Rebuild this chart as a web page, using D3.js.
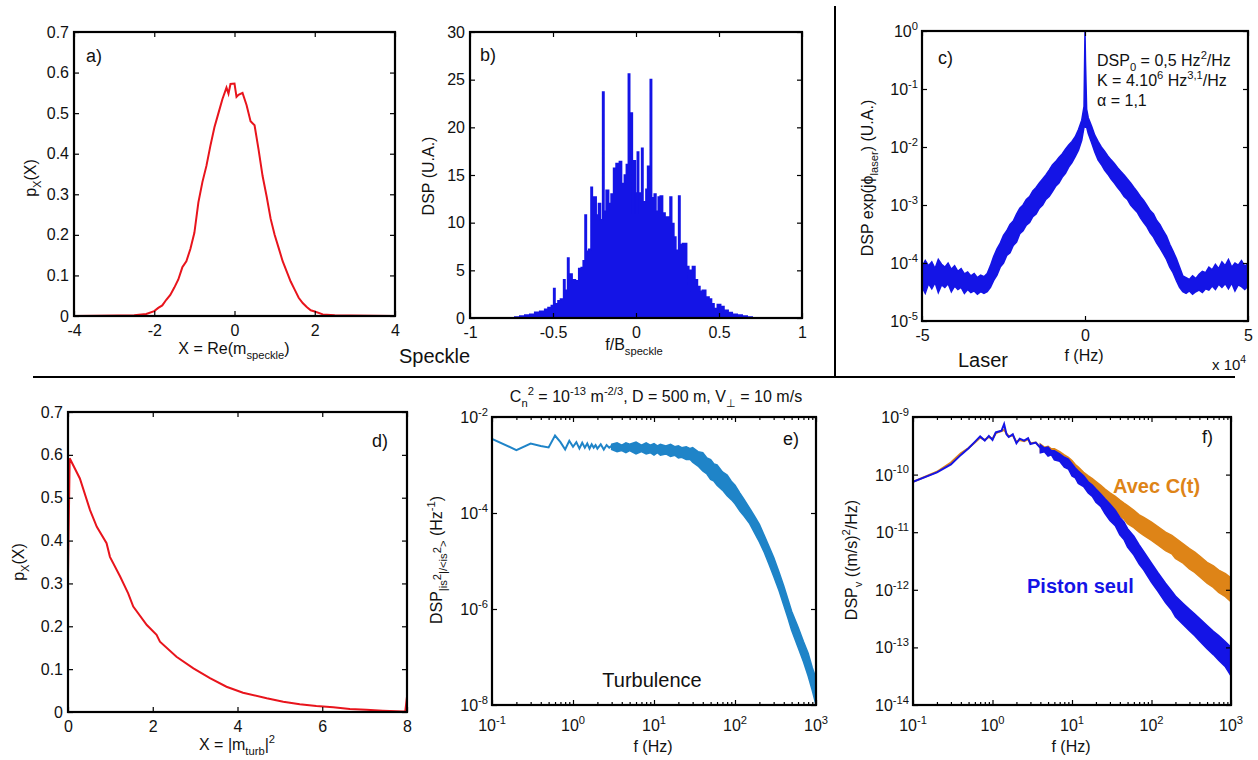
<!DOCTYPE html>
<html><head><meta charset="utf-8">
<script src="https://cdn.jsdelivr.net/npm/d3@7"></script>
<style>
body{margin:0;background:#fff}
svg{display:block}
text{font-family:"Liberation Sans",Arial,Helvetica,sans-serif;fill:#111}
</style></head>
<body><svg id="chart" width="1258" height="760"></svg>
<script>
// ---------- DATA ----------
// a) Gaussian-like pdf of Re(m_speckle)
const aX = [-4,-2.9,-2.5,-2.2,-2.0,-1.9,-1.8,-1.7,-1.6,-1.5,-1.4,-1.3,-1.2,-1.1,-1.0,-0.9,-0.8,-0.7,-0.6,-0.5,-0.4,-0.3,-0.2,-0.15,-0.1,0,0.05,0.1,0.2,0.3,0.4,0.5,0.6,0.7,0.8,0.9,1.0,1.1,1.2,1.3,1.4,1.5,1.6,1.7,1.8,1.9,2.0,2.2,2.5,2.9,4];
const aY = [0,0.001,0.002,0.005,0.012,0.02,0.026,0.04,0.052,0.07,0.09,0.12,0.135,0.165,0.205,0.28,0.33,0.37,0.42,0.465,0.5,0.535,0.563,0.548,0.572,0.573,0.54,0.545,0.55,0.52,0.48,0.47,0.41,0.345,0.295,0.24,0.2,0.168,0.135,0.11,0.085,0.065,0.045,0.032,0.022,0.014,0.011,0.004,0.002,0.001,0];
const aXTicks = [-4,-2,0,2,4];
const aYTicks = [0,0.1,0.2,0.3,0.4,0.5,0.6,0.7];

// b) speckle spectrum (step plot)
const bF = [-1,-0.73,-0.70,-0.67,-0.64,-0.61,-0.58,-0.55,-0.53,-0.51,-0.496,-0.488,-0.47,-0.455,-0.436,-0.428,-0.412,-0.404,-0.385,-0.365,-0.345,-0.33,-0.318,-0.307,-0.299,-0.285,-0.271,-0.263,-0.248,-0.24,-0.226,-0.214,-0.201,-0.193,-0.18,-0.165,-0.15,-0.135,-0.12,-0.10,-0.087,-0.07,-0.058,-0.046,-0.038,-0.03,-0.022,-0.014,-0.004,0.004,0.008,0.016,0.034,0.042,0.06,0.07,0.086,0.094,0.11,0.12,0.134,0.146,0.16,0.175,0.19,0.205,0.215,0.228,0.24,0.257,0.265,0.28,0.292,0.305,0.318,0.325,0.34,0.355,0.37,0.385,0.40,0.42,0.44,0.455,0.47,0.49,0.51,0.53,0.555,0.58,0.61,0.64,0.67,0.70,1];
const bV = [0,0.1,0.2,0.3,0.4,0.6,0.7,0.9,1.1,1.3,3.1,1.5,1.8,2.0,4.0,2.9,6.3,4.6,4.0,3.9,5.2,5.3,6.0,10.8,7.0,7.2,13.7,12.7,12.7,10.8,12.0,10.3,23.7,11.2,13.4,12.0,13.0,15.7,16.2,16.4,14.1,15.0,16.1,25.6,17.0,21.5,11.0,16.5,13.1,11.0,17.4,13.1,17.8,12.2,13.5,15.9,25.0,12.6,13.0,11.2,12.7,12.8,11.0,10.6,10.6,12.7,9.9,8.5,7.1,12.8,7.7,7.8,7.8,5.4,2.9,5.0,5.4,4.0,3.3,2.8,2.9,2.2,2.0,1.5,1.0,1.4,1.2,0.8,0.56,0.4,0.3,0.2,0.1,0,0];
const bXTicks = [-1,-0.5,0,0.5,1];
const bYTicks = [0,5,10,15,20,25,30];

// c) laser phase noise spectrum (noise band: upper / lower envelope)
const cF  = [-50000,-49000,-48000,-47000,-46000,-45000,-44000,-43000,-42000,-41000,-40000,-39000,-38000,-37000,-36000,-35000,-34000,-33000,-32000,-31000,-30000,
             -29000,-28000,-27000,-26000,-25000,-24000,-23000,-22000,-21000,-20000,-19000,-18000,-17000,-16000,-15000,-14000,-13000,-12000,-11000,-10000,-9000,-8000,-7000,-6000,-5000,-4000,-3000,-2000,-1000,
             -300,0,150,500,
             1000,2000,3000,4000,5000,6000,7000,8000,9000,10000,11000,12000,13000,14000,15000,16000,17000,18000,19000,20000,21000,22000,23000,24000,25000,26000,27000,28000,29000,30000,
             31000,32000,33000,34000,35000,36000,37000,38000,39000,40000,41000,42000,43000,44000,45000,46000,47000,48000,49000,50000];
const cHi = [8.6e-5,1.1e-4,9.0e-5,1.05e-4,8.0e-5,1.15e-4,9.5e-5,8.5e-5,1.0e-4,7.8e-5,9.0e-5,7.2e-5,8.0e-5,6.5e-5,7.0e-5,6.0e-5,6.6e-5,5.6e-5,6.2e-5,5.8e-5,6.6e-5,
             9e-5,1.3e-4,1.75e-4,2.2e-4,3.0e-4,3.6e-4,4.6e-4,5.3e-4,7.0e-4,8.8e-4,1.0e-3,1.25e-3,1.4e-3,1.75e-3,2.0e-3,2.4e-3,2.8e-3,3.3e-3,4.0e-3,4.9e-3,5.6e-3,6.6e-3,7.6e-3,9.2e-3,1.08e-2,1.25e-2,1.5e-2,2.0e-2,2.9e-2,
             5e-2,1,0.3,4.5e-2,
             3.2e-2,2.3e-2,1.6e-2,1.25e-2,1.0e-2,8.5e-3,7.0e-3,6.0e-3,5.2e-3,4.4e-3,3.8e-3,3.3e-3,2.8e-3,2.4e-3,2.0e-3,1.7e-3,1.4e-3,1.2e-3,9.8e-4,8.0e-4,7.0e-4,5.4e-4,4.6e-4,3.6e-4,2.9e-4,2.1e-4,1.6e-4,1.2e-4,8.5e-5,6.0e-5,
             5.6e-5,5.2e-5,6.0e-5,5.4e-5,6.4e-5,7.2e-5,6.8e-5,8.5e-5,7.6e-5,9.5e-5,8.0e-5,1.05e-4,9.0e-5,1.15e-4,8.5e-5,1.0e-4,9.2e-5,1.1e-4,8.8e-5,9.9e-5];
const cLo = [3.9e-5,3.0e-5,4.4e-5,3.6e-5,4.6e-5,3.1e-5,4.2e-5,3.8e-5,4.4e-5,3.2e-5,4.0e-5,3.5e-5,3.8e-5,3.0e-5,3.5e-5,3.1e-5,3.3e-5,2.9e-5,3.2e-5,3.0e-5,3.2e-5,
             3.8e-5,5.0e-5,6.2e-5,8.5e-5,1.0e-4,1.35e-4,1.5e-4,2.0e-4,2.3e-4,3.2e-4,3.6e-4,4.5e-4,5.0e-4,6.3e-4,7.0e-4,8.8e-4,1.0e-3,1.25e-3,1.4e-3,1.7e-3,2.1e-3,2.4e-3,3.0e-3,3.5e-3,4.5e-3,5.4e-3,6.8e-3,8.8e-3,1.3e-2,
             2.2e-2,2.5e-2,2.2e-2,2.2e-2,
             1.7e-2,1.2e-2,8.2e-3,6.0e-3,5.0e-3,4.0e-3,3.4e-3,2.8e-3,2.4e-3,2.0e-3,1.7e-3,1.4e-3,1.25e-3,1.0e-3,8.6e-4,7.5e-4,6.0e-4,5.0e-4,4.2e-4,3.3e-4,2.8e-4,2.2e-4,1.8e-4,1.45e-4,1.15e-4,8.5e-5,6.8e-5,5.0e-5,3.8e-5,3.2e-5,
             3.0e-5,3.3e-5,2.9e-5,3.2e-5,3.4e-5,3.1e-5,3.6e-5,3.4e-5,4.0e-5,3.5e-5,4.3e-5,3.8e-5,4.4e-5,3.6e-5,4.5e-5,3.3e-5,4.2e-5,3.9e-5,3.5e-5,4.0e-5];
const cXTicks = [-50000,0,50000];
const cYTicks = [1e-5,1e-4,1e-3,1e-2,1e-1,1];

// d) exponential-like pdf of |m_turb|^2
const dX = [0,0.04,0.28,0.52,0.68,0.91,0.99,1.23,1.42,1.54,1.86,2.09,2.17,2.56,2.96,3.35,3.74,4.13,4.69,5.08,5.47,5.86,6.26,6.65,7.04,7.43,7.9,7.96,8];
const dY = [0.32,0.592,0.545,0.471,0.432,0.394,0.362,0.316,0.277,0.246,0.203,0.180,0.164,0.129,0.102,0.079,0.059,0.045,0.032,0.024,0.018,0.014,0.011,0.007,0.005,0.003,0.001,0.002,0.036];
const dXTicks = [0,2,4,6,8];
const dYTicks = [0,0.1,0.2,0.3,0.4,0.5,0.6,0.7];

// e) turbulence scintillation spectrum
const eLineF = [0.1,0.2,0.3,0.4,0.5,0.6,0.7,0.8,0.9,1.0,1.1,1.2,1.3,1.4,1.5,1.6,1.7,1.8,1.9,2.0,2.2,2.4,2.6,2.8,3.0];
const eLineV = [3.5e-3,2.05e-3,2.8e-3,2.5e-3,2.33e-3,4.1e-3,3.0e-3,2.1e-3,3.2e-3,2.4e-3,3.0e-3,2.2e-3,2.9e-3,2.3e-3,2.8e-3,2.2e-3,2.7e-3,2.3e-3,2.6e-3,2.2e-3,2.7e-3,2.1e-3,2.6e-3,2.3e-3,2.5e-3];
const eBandF = [3,3.5,4,4.5,5,6,7,8,9,10,11,12,14,16,18,20,22,25,28,30,35,40,45,50,55,60,70,80,90,100,115,130,150,175,200,230,260,300,350,400,450,500,600,700,800,900,1000];
const eHi = [2.7e-3,2.9e-3,2.6e-3,2.9e-3,2.7e-3,3.0e-3,2.6e-3,2.9e-3,2.6e-3,2.8e-3,2.5e-3,2.7e-3,2.5e-3,2.7e-3,2.4e-3,2.5e-3,2.3e-3,2.4e-3,2.2e-3,2.3e-3,1.9e-3,1.8e-3,1.4e-3,1.3e-3,1.05e-3,1.0e-3,7.2e-4,6.2e-4,4.6e-4,3.8e-4,2.6e-4,1.9e-4,1.3e-4,8.5e-5,5.8e-5,3.4e-5,2.1e-5,1.2e-5,5.8e-6,3.0e-6,1.6e-6,9.0e-7,4.2e-7,2.1e-7,1.2e-7,6e-8,3.6e-8];
const eLo = [2.1e-3,1.9e-3,2.0e-3,1.8e-3,2.0e-3,1.7e-3,1.9e-3,1.7e-3,1.8e-3,1.6e-3,1.8e-3,1.6e-3,1.7e-3,1.5e-3,1.6e-3,1.4e-3,1.45e-3,1.3e-3,1.3e-3,1.15e-3,9.5e-4,7.5e-4,6.5e-4,5.0e-4,4.6e-4,3.8e-4,3.0e-4,2.3e-4,1.9e-4,1.55e-4,1.1e-4,8.5e-5,6.2e-5,3.8e-5,2.5e-5,1.5e-5,9.0e-6,4.8e-6,2.4e-6,1.2e-6,6.5e-7,3.6e-7,1.6e-7,8e-8,4e-8,2e-8,1e-8];
const logXTicks = [0.1,1,10,100,1000];
const eYTicks = [1e-8,1e-6,1e-4,1e-2];

// f) velocity spectra
const fLineF = [0.1,0.2,0.3,0.4,0.5,0.6,0.7,0.8,0.9,1.0,1.1,1.2,1.3,1.4,1.5,1.6,1.8,2.0,2.2,2.5,2.8,3.0,3.5,4.0];
const fBlueLineV = [7.5e-11,1.09e-10,1.5e-10,2.2e-10,2.86e-10,3.7e-10,4.6e-10,3.9e-10,4.7e-10,4.0e-10,5.4e-10,5.6e-10,5.8e-10,7.5e-10,5.0e-10,4.5e-10,5.0e-10,3.5e-10,4.2e-10,3.9e-10,4.3e-10,3.4e-10,3.6e-10,2.9e-10];
const fOrangeLineV = [7.5e-11,1.12e-10,1.62e-10,2.35e-10,2.9e-10,3.6e-10,4.4e-10,4.0e-10,4.5e-10,4.2e-10,5.2e-10,5.5e-10,5.7e-10,6.0e-10,5.2e-10,4.6e-10,4.8e-10,3.7e-10,4.0e-10,3.8e-10,4.1e-10,3.5e-10,3.6e-10,3.0e-10];
const fBandF = [4,4.5,5,5.5,6,7,8,9,10,11,12,14,16,18,20,23,26,30,35,40,45,50,60,70,80,100,120,150,180,200,250,300,350,400,500,600,700,850,1000];
const fBlueHi = [3.3e-10,2.9e-10,3.0e-10,2.6e-10,2.6e-10,2.3e-10,2.0e-10,1.85e-10,1.55e-10,1.3e-10,1.15e-10,9.5e-11,7.5e-11,6.6e-11,5.6e-11,4.6e-11,3.8e-11,3.1e-11,2.4e-11,1.8e-11,1.5e-11,1.15e-11,8.5e-12,6.0e-12,4.6e-12,2.9e-12,2.0e-12,1.3e-12,9.5e-13,7.8e-13,5.8e-13,4.6e-13,3.8e-13,3.2e-13,2.4e-13,1.9e-13,1.6e-13,1.25e-13,1.0e-13];
const fBlueLo = [2.4e-10,2.5e-10,2.1e-10,2.2e-10,1.8e-10,1.7e-10,1.35e-10,1.25e-10,9.5e-11,8.8e-11,7.0e-11,6.2e-11,4.8e-11,4.2e-11,3.3e-11,2.8e-11,2.1e-11,1.6e-11,1.3e-11,9.0e-12,7.5e-12,5.5e-12,4.0e-12,2.8e-12,2.2e-12,1.35e-12,9.5e-13,6.0e-13,4.4e-13,3.4e-13,2.5e-13,1.95e-13,1.6e-13,1.3e-13,9.5e-14,7.5e-14,6.0e-14,4.6e-14,3.2e-14];
const fOrangeHi = [3.4e-10,3.0e-10,3.1e-10,2.8e-10,2.8e-10,2.5e-10,2.2e-10,2.0e-10,1.75e-10,1.5e-10,1.35e-10,1.1e-10,9.5e-11,8.5e-11,7.6e-11,6.5e-11,5.6e-11,4.8e-11,4.2e-11,3.6e-11,3.2e-11,2.9e-11,2.4e-11,2.0e-11,1.8e-11,1.5e-11,1.25e-11,1.0e-11,8.8e-12,7.9e-12,6.3e-12,5.2e-12,4.5e-12,3.9e-12,3.0e-12,2.6e-12,2.2e-12,1.9e-12,1.6e-12];
const fOrangeLo = [2.5e-10,2.6e-10,2.2e-10,2.3e-10,1.95e-10,1.8e-10,1.5e-10,1.4e-10,1.1e-10,1.0e-10,8.5e-11,7.5e-11,6.0e-11,5.3e-11,4.4e-11,4.0e-11,3.3e-11,2.8e-11,2.4e-11,1.9e-11,1.7e-11,1.4e-11,1.2e-11,1.0e-11,8.8e-12,7.2e-12,6.0e-12,4.8e-12,4.2e-12,3.5e-12,2.9e-12,2.3e-12,2.0e-12,1.7e-12,1.3e-12,1.1e-12,9.0e-13,7.6e-13,6.2e-13];
const fYTicks = [1e-14,1e-13,1e-12,1e-11,1e-10,1e-9];

// ---------- DRAWING ----------
const FONT = '"Liberation Sans",Arial,Helvetica,sans-serif';
const FS = 16;
const RED = '#e8141c', BLUE = '#1414e6', LBLUE = '#1f84c8', ORANGE = '#de8417';
const svg = d3.select('#chart');

function rich(sel, parts, fs) {
  let cur = 0;
  parts.forEach(([s, m]) => {
    const off = m === 'sub' ? fs * 0.33 : m === 'sup' ? -fs * 0.45 : m === 'mid' ? -fs * 0.05 : 0;
    const ts = sel.append('tspan').attr('dy', off - cur).text(s);
    if (m !== 'n') ts.attr('font-size', fs * 0.7);
    cur = off;
  });
  return sel;
}
function label(x, y, parts, o = {}) {
  const fs = o.fs || FS;
  const t = svg.append('text').attr('font-size', fs)
    .attr('text-anchor', o.anchor || 'middle')
    .attr('font-weight', o.bold ? 'bold' : null)
    .style('fill', o.color || '#111');
  if (o.rotate) t.attr('transform', `translate(${x},${y}) rotate(-90)`).attr('x', 0).attr('y', 0);
  else t.attr('x', x).attr('y', y);
  return rich(t, parts, fs);
}

let clipId = 0;
function panel(p) {
  const id = 'clip' + (clipId++);
  svg.append('clipPath').attr('id', id).append('rect')
    .attr('x', p.x0).attr('y', p.y0).attr('width', p.x1 - p.x0).attr('height', p.y1 - p.y0);
  return svg.append('g').attr('clip-path', `url(#${id})`);
}

function frame(p, xs, ys, o) {
  const g = svg.append('g').attr('color', '#000');
  const mk = (axis, tx, ty) => {
    const a = g.append('g').attr('transform', `translate(${tx},${ty})`).call(axis);
    a.select('.domain').remove();
    a.attr('font-size', FS).attr('font-family', FONT);
    a.selectAll('line').attr('stroke-width', 1.2);
    a.selectAll('text').style('fill', '#111');
    return a;
  };
  const none = () => '';
  mk(d3.axisBottom(xs).tickValues(o.xt).tickSizeInner(-5).tickSizeOuter(0).tickPadding(9).tickFormat(o.xLog ? none : o.xf), 0, p.y1);
  mk(d3.axisTop(xs).tickValues(o.xt).tickSizeInner(-5).tickSizeOuter(0).tickFormat(none), 0, p.y0);
  mk(d3.axisLeft(ys).tickValues(o.yt).tickSizeInner(-5).tickSizeOuter(0).tickPadding(5).tickFormat(o.yLog ? none : o.yf), p.x0, 0);
  mk(d3.axisRight(ys).tickValues(o.yt).tickSizeInner(-5).tickSizeOuter(0).tickFormat(none), p.x1, 0);
  if (o.xLog) {
    const minor = xs.ticks().filter(v => Math.abs(Math.log10(v) - Math.round(Math.log10(v))) > 1e-6);
    mk(d3.axisBottom(xs).tickValues(minor).tickSizeInner(-3).tickSizeOuter(0).tickFormat(none), 0, p.y1);
    mk(d3.axisTop(xs).tickValues(minor).tickSizeInner(-3).tickSizeOuter(0).tickFormat(none), 0, p.y0);
    o.xt.forEach(v => {
      const t = svg.append('text').attr('x', xs(v)).attr('y', p.y1 + 26).attr('font-size', FS).attr('text-anchor', 'middle');
      rich(t, [['10', 'n'], [String(Math.round(Math.log10(v))), 'sup']], FS);
    });
  }
  if (o.yLog) {
    o.yt.forEach(v => {
      const t = svg.append('text').attr('x', p.x0 - 4).attr('y', ys(v) + 6).attr('font-size', FS).attr('text-anchor', 'end');
      rich(t, [['10', 'n'], [String(Math.round(Math.log10(v))), 'sup']], FS);
    });
  }
  g.append('rect').attr('x', p.x0).attr('y', p.y0).attr('width', p.x1 - p.x0).attr('height', p.y1 - p.y0)
    .attr('fill', 'none').attr('stroke', '#000').attr('stroke-width', 2.2);
}
const fmt1 = d => d === 0 ? '0' : d3.format('.1f')(d);

// ---- Panel a ----
{
  const p = {x0: 74, x1: 395, y0: 32, y1: 316};
  const xs = d3.scaleLinear().domain([-4, 4]).range([p.x0, p.x1]);
  const ys = d3.scaleLinear().domain([0, 0.7]).range([p.y1, p.y0]);
  const g = panel(p);
  g.append('path').datum(aX.map((x, i) => [x, aY[i]]))
    .attr('d', d3.line().x(d => xs(d[0])).y(d => ys(d[1])))
    .attr('fill', 'none').attr('stroke', RED).attr('stroke-width', 2);
  frame(p, xs, ys, {xt: aXTicks, yt: aYTicks, xf: String, yf: fmt1});
  label(86, 62, [['a)', 'n']], {fs: 18, anchor: 'start'});
  label(36, 178, [['p', 'n'], ['X', 'sub'], ['(X)', 'n']], {rotate: true});
  label(234, 354, [['X = Re(m', 'n'], ['speckle', 'sub'], [')', 'n']]);
}

// ---- Panel b ----
{
  const p = {x0: 470, x1: 802, y0: 32, y1: 318};
  const xs = d3.scaleLinear().domain([-1, 1]).range([p.x0, p.x1]);
  const ys = d3.scaleLinear().domain([0, 30]).range([p.y1, p.y0]);
  const g = panel(p);
  const pts = bF.map((f, i) => [f, bV[i]]);
  g.append('path').datum(pts)
    .attr('d', d3.area().x(d => xs(d[0])).y0(ys(0)).y1(d => ys(d[1])).curve(d3.curveStepAfter))
    .attr('fill', BLUE);
  g.append('path').datum(pts)
    .attr('d', d3.line().x(d => xs(d[0])).y(d => ys(d[1])).curve(d3.curveStepAfter))
    .attr('fill', 'none').attr('stroke', BLUE).attr('stroke-width', 1.6);
  frame(p, xs, ys, {xt: bXTicks, yt: bYTicks, xf: String, yf: String});
  label(480, 61, [['b)', 'n']], {fs: 18, anchor: 'start'});
  label(434, 176, [['DSP (U.A.)', 'n']], {rotate: true});
  label(634, 350, [['f/B', 'n'], ['speckle', 'sub']]);
}

// ---- Panel c ----
{
  const p = {x0: 922, x1: 1248, y0: 31, y1: 321};
  const xs = d3.scaleLinear().domain([-50000, 50000]).range([p.x0, p.x1]);
  const ys = d3.scaleLog().domain([1e-5, 1]).range([p.y1, p.y0]);
  const g = panel(p);
  const pts = cF.map((f, i) => [f, cLo[i], cHi[i]]);
  g.append('path').datum(pts)
    .attr('d', d3.area().x(d => xs(d[0])).y0(d => ys(d[1])).y1(d => ys(d[2])))
    .attr('fill', BLUE).attr('stroke', BLUE).attr('stroke-width', 1.5);
  frame(p, xs, ys, {xt: cXTicks, yt: cYTicks, xf: d => String(d / 1e4), yLog: true});
  label(938, 64, [['c)', 'n']], {fs: 18, anchor: 'start'});
  label(1097, 66, [['DSP', 'n'], ['0', 'sub'], [' = 0,5 Hz', 'n'], ['2', 'sup'], ['/Hz', 'n']], {anchor: 'start'});
  label(1097, 86, [['K = 4.10', 'n'], ['6', 'sup'], [' Hz', 'n'], ['3,1', 'sup'], ['/Hz', 'n']], {anchor: 'start'});
  label(1097, 106, [['α = 1,1', 'n']], {anchor: 'start'});
  label(873, 178, [['DSP exp(jϕ', 'n'], ['laser', 'sub'], [') (U.A.)', 'n']], {rotate: true});
  label(1084, 361, [['f (Hz)', 'n']]);
  label(1212, 370, [['x 10', 'n'], ['4', 'sup']], {anchor: 'start', fs: 15});
}

// ---- Panel d ----
{
  const p = {x0: 68, x1: 407, y0: 412, y1: 712};
  const xs = d3.scaleLinear().domain([0, 8]).range([p.x0, p.x1]);
  const ys = d3.scaleLinear().domain([0, 0.7]).range([p.y1, p.y0]);
  const g = panel(p);
  g.append('path').datum(dX.map((x, i) => [x, dY[i]]))
    .attr('d', d3.line().x(d => xs(d[0])).y(d => ys(d[1])))
    .attr('fill', 'none').attr('stroke', RED).attr('stroke-width', 2);
  frame(p, xs, ys, {xt: dXTicks, yt: dYTicks, xf: String, yf: fmt1});
  label(372, 447, [['d)', 'n']], {fs: 18, anchor: 'start'});
  label(24, 562, [['p', 'n'], ['X', 'sub'], ['(X)', 'n']], {rotate: true});
  label(237, 750, [['X = |m', 'n'], ['turb', 'sub'], ['|', 'n'], ['2', 'sup']]);
}

// ---- Panel e ----
{
  const p = {x0: 492, x1: 816, y0: 417, y1: 705};
  const xs = d3.scaleLog().domain([0.1, 1000]).range([p.x0, p.x1]);
  const ys = d3.scaleLog().domain([1e-8, 1e-2]).range([p.y1, p.y0]);
  const g = panel(p);
  g.append('path').datum(eBandF.map((f, i) => [f, eLo[i], eHi[i]]))
    .attr('d', d3.area().x(d => xs(d[0])).y0(d => ys(d[1])).y1(d => ys(d[2])))
    .attr('fill', LBLUE).attr('stroke', LBLUE).attr('stroke-width', 1.5);
  g.append('path').datum(eLineF.map((f, i) => [f, eLineV[i]]))
    .attr('d', d3.line().x(d => xs(d[0])).y(d => ys(d[1])))
    .attr('fill', 'none').attr('stroke', LBLUE).attr('stroke-width', 2);
  frame(p, xs, ys, {xt: logXTicks, yt: eYTicks, xLog: true, yLog: true});
  label(783, 445, [['e)', 'n']], {fs: 18, anchor: 'start'});
  label(652, 687, [['Turbulence', 'n']], {fs: 20});
  label(656, 402, [['C', 'n'], ['n', 'sub'], ['2', 'sup'], [' = 10', 'n'], ['-13', 'sup'], [' m', 'n'], ['-2/3', 'sup'], [', D = 500 m, V', 'n'], ['⊥', 'sub'], [' = 10 m/s', 'n']]);
  label(442, 560, [['DSP', 'n'], ['|is', 'sub'], ['2', 'mid'], ['|/<is', 'sub'], ['2', 'mid'], ['>', 'sub'], [' (Hz', 'n'], ['-1', 'sup'], [')', 'n']], {rotate: true});
  label(653, 752, [['f (Hz)', 'n']]);
}

// ---- Panel f ----
{
  const p = {x0: 913, x1: 1231, y0: 417, y1: 705};
  const xs = d3.scaleLog().domain([0.1, 1000]).range([p.x0, p.x1]);
  const ys = d3.scaleLog().domain([1e-14, 1e-9]).range([p.y1, p.y0]);
  const g = panel(p);
  const band = (lo, hi, col) => g.append('path').datum(fBandF.map((f, i) => [f, lo[i], hi[i]]))
    .attr('d', d3.area().x(d => xs(d[0])).y0(d => ys(d[1])).y1(d => ys(d[2])))
    .attr('fill', col).attr('stroke', col).attr('stroke-width', 1.5);
  const line = (v, col) => g.append('path').datum(fLineF.map((f, i) => [f, v[i]]))
    .attr('d', d3.line().x(d => xs(d[0])).y(d => ys(d[1])))
    .attr('fill', 'none').attr('stroke', col).attr('stroke-width', 2);
  band(fOrangeLo, fOrangeHi, ORANGE);
  line(fOrangeLineV, ORANGE);
  band(fBlueLo, fBlueHi, BLUE);
  line(fBlueLineV, BLUE);
  frame(p, xs, ys, {xt: logXTicks, yt: fYTicks, xLog: true, yLog: true});
  label(1202, 443, [['f)', 'n']], {fs: 18, anchor: 'start'});
  label(1113, 493, [['Avec C(t)', 'n']], {fs: 20, bold: true, anchor: 'start', color: ORANGE});
  label(1027, 593, [['Piston seul', 'n']], {fs: 20, bold: true, anchor: 'start', color: BLUE});
  label(857, 560, [['DSP', 'n'], ['v', 'sub'], [' ((m/s)', 'n'], ['2', 'sup'], ['/Hz)', 'n']], {rotate: true});
  label(1071, 752, [['f (Hz)', 'n']]);
}

// ---- Section labels & dividers ----
label(399, 363, [['Speckle', 'n']], {fs: 20, anchor: 'start'});
label(983, 367, [['Laser', 'n']], {fs: 20});
svg.append('line').attr('x1', 33).attr('x2', 1235).attr('y1', 377).attr('y2', 377).attr('stroke', '#000').attr('stroke-width', 2);
svg.append('line').attr('x1', 835).attr('x2', 835).attr('y1', 6).attr('y2', 377).attr('stroke', '#000').attr('stroke-width', 2);
</script>
</body></html>
